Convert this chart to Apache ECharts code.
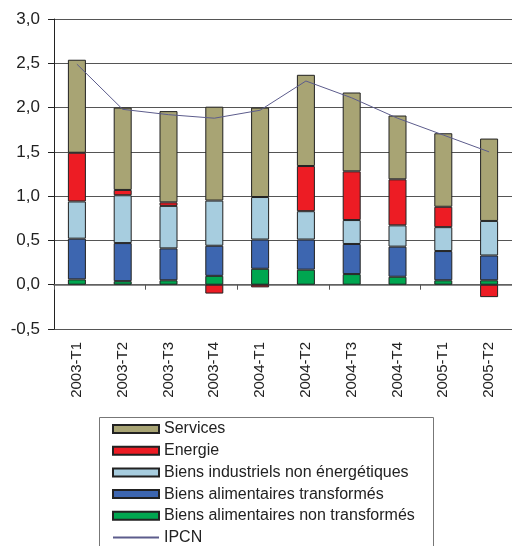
<!DOCTYPE html>
<html>
<head>
<meta charset="utf-8">
<script src="https://cdn.jsdelivr.net/npm/echarts@6/dist/echarts.min.js"></script>
<style>html,body{margin:0;padding:0;background:#fff;}#c{width:512px;height:546px;}</style>
</head>
<body>
<div id="c"></div>
<script>
var categories = ['2003-T1','2003-T2','2003-T3','2003-T4','2004-T1','2004-T2','2004-T3','2004-T4','2005-T1','2005-T2'];
var alimNonTransf = [0.06, 0.04, 0.05, 0.10, 0.18, 0.17, 0.12, 0.09, 0.05, 0.05];
var alimTransf    = [0.46, 0.43, 0.36, 0.34, 0.33, 0.34, 0.34, 0.34, 0.33, 0.28];
var industriels   = [0.42, 0.54, 0.48, 0.51, 0.48, 0.32, 0.27, 0.24, 0.27, 0.39];
var energie       = [0.55, 0.06, 0.04, -0.10, -0.03, 0.51, 0.55, 0.52, 0.23, -0.14];
var services      = [1.05, 0.93, 1.03, 1.06, 1.01, 1.03, 0.89, 0.72, 0.83, 0.93];
var ipcn          = [2.49, 1.98, 1.92, 1.88, 1.97, 2.30, 2.11, 1.88, 1.69, 1.50];
var yTicks = {min: -0.5, max: 3.0, interval: 0.5};

var FONT = '"Liberation Sans", Arial, sans-serif';
var chart = echarts.init(document.getElementById('c'), null, {renderer: 'canvas'});
function barSeries(name, data, color) {
  return {
    name: name, type: 'bar', stack: 'total', data: data, barWidth: 18,
    xAxisIndex: 0,
    itemStyle: {color: color, borderColor: '#222', borderWidth: 1},
    emphasis: {disabled: true}
  };
}
chart.setOption({
  animation: false,
  textStyle: {fontFamily: FONT},
  grid: {left: 54, right: 0, top: 19, bottom: 217, containLabel: false},
  graphic: [{
    type: 'rect', left: 97, top: 415, silent: true, z: -1,
    shape: {width: 334, height: 200},
    style: {fill: 'none', stroke: '#777', lineWidth: 1}
  }],
  legend: {
    orient: 'vertical', left: 98, top: 416,
    padding: [5, 0, 0, 14],
    itemWidth: 46, itemHeight: 8, itemGap: 5.7,
    textStyle: {fontSize: 16, color: '#222', fontFamily: FONT, lineHeight: 16},
    data: [
      {name: 'Services', icon: 'rect'},
      {name: 'Energie', icon: 'rect'},
      {name: 'Biens industriels non énergétiques', icon: 'rect'},
      {name: 'Biens alimentaires transformés', icon: 'rect'},
      {name: 'Biens alimentaires non transformés', icon: 'rect'},
      {name: 'IPCN', itemStyle: {opacity: 0, color: 'transparent', borderWidth: 0}}
    ]
  },
  xAxis: [
    {
      type: 'category', data: categories, position: 'bottom',
      axisLine: {onZero: true, lineStyle: {color: '#666', width: 1.5}},
      axisTick: {show: true, length: 5, lineStyle: {color: '#555'}},
      axisLabel: {show: false},
      splitLine: {show: false}
    },
    {
      type: 'category', data: categories, position: 'bottom',
      axisLine: {show: false, onZero: false},
      axisTick: {show: false},
      axisLabel: {show: true, rotate: 90, fontSize: 15, color: '#222', margin: 13, fontFamily: FONT},
      splitLine: {show: false}
    }
  ],
  yAxis: {
    type: 'value', min: yTicks.min, max: yTicks.max, interval: yTicks.interval,
    axisLine: {show: true, lineStyle: {color: '#222', width: 1}},
    axisTick: {show: true, length: 6, lineStyle: {color: '#222'}},
    axisLabel: {fontSize: 17, color: '#222', margin: 14, fontFamily: FONT,
      formatter: function (v) { return v.toFixed(1).replace('.', ','); }},
    splitLine: {show: true, lineStyle: {color: '#555', width: 1}}
  },
  series: [
    barSeries('Biens alimentaires non transformés', alimNonTransf, '#00a650'),
    barSeries('Biens alimentaires transformés', alimTransf, '#3d66b0'),
    barSeries('Biens industriels non énergétiques', industriels, '#a7cddf'),
    barSeries('Energie', energie, '#ed1c24'),
    barSeries('Services', services, '#a8a474'),
    {
      name: 'IPCN', type: 'line', data: ipcn, symbol: 'none', xAxisIndex: 0,
      lineStyle: {color: '#5c5c8c', width: 1}, itemStyle: {color: '#5c5c8c'},
      emphasis: {disabled: true}, z: 5
    }
  ]
});
</script>
</body>
</html>
